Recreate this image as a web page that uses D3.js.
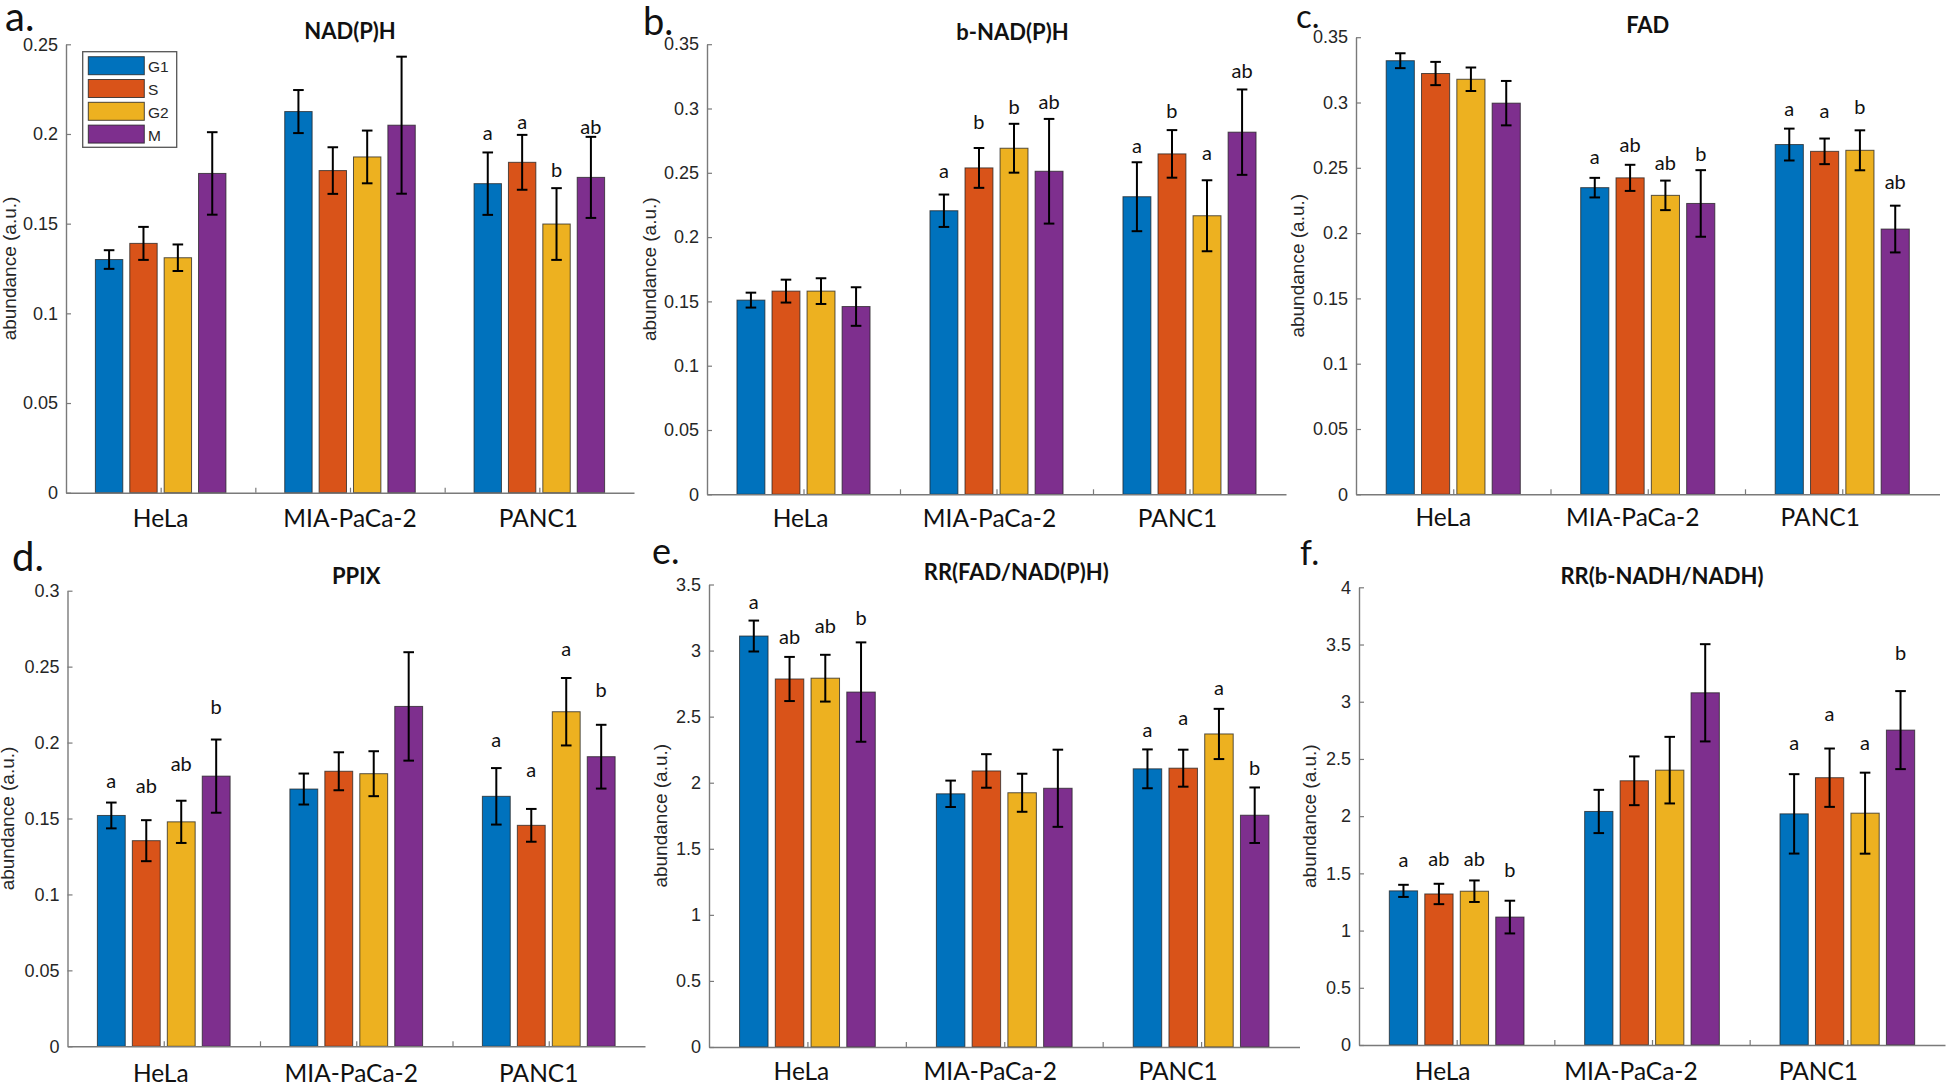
<!DOCTYPE html>
<html><head><meta charset="utf-8">
<script src="https://cdn.jsdelivr.net/npm/d3@7"></script>
<style>body{margin:0;background:#fff}</style>
</head><body>
<svg id="fig" width="1946" height="1086"></svg>
<script>
// ---------------- DATA ----------------
const categories = ["HeLa", "MIA-PaCa-2", "PANC1"];
const phases = ["G1", "S", "G2", "M"];
const xTickValues = [1, 1.5, 2, 2.5, 3];

// a. NAD(P)H
const nadphMean = [[0.130, 0.139, 0.131, 0.178], [0.2125, 0.1796, 0.1872, 0.2049], [0.1723, 0.1842, 0.1498, 0.1758]];
const nadphErr  = [[0.0052, 0.0092, 0.0074, 0.023], [0.012, 0.013, 0.0147, 0.0382], [0.0174, 0.0153, 0.020, 0.0226]];
const nadphLetters = [["", "", "", ""], ["", "", "", ""], ["a", "a", "b", "ab"]];
const nadphLetterY = [[0, 0, 0, 0], [0, 0, 0, 0], [0.1966, 0.2025, 0.176, 0.2002]];
const nadphTicks = [0, 0.05, 0.1, 0.15, 0.2, 0.25];

// b. b-NAD(P)H
const bnadphMean = [[0.151, 0.158, 0.158, 0.146], [0.2205, 0.2538, 0.2691, 0.2512], [0.2314, 0.2647, 0.2166, 0.2816]];
const bnadphErr  = [[0.0058, 0.0089, 0.010, 0.015], [0.0126, 0.0155, 0.019, 0.0407], [0.0268, 0.0185, 0.0276, 0.0332]];
const bnadphLetters = [["", "", "", ""], ["a", "b", "b", "ab"], ["a", "b", "a", "ab"]];
const bnadphLetterY = [[0, 0, 0, 0], [0.2457, 0.2842, 0.2957, 0.2993], [0.2657, 0.2928, 0.2603, 0.3237]];
const bnadphTicks = [0, 0.05, 0.1, 0.15, 0.2, 0.25, 0.3, 0.35];

// c. FAD
const fadMean = [[0.332, 0.3222, 0.3178, 0.2995], [0.2348, 0.2423, 0.2289, 0.2227], [0.2678, 0.2626, 0.2634, 0.2031]];
const fadErr  = [[0.0057, 0.0089, 0.009, 0.017], [0.0075, 0.010, 0.0113, 0.0255], [0.0122, 0.0098, 0.0153, 0.0179]];
const fadLetters = [["", "", "", ""], ["a", "ab", "ab", "b"], ["a", "a", "b", "ab"]];
const fadLetterY = [[0, 0, 0, 0], [0.2526, 0.2621, 0.2485, 0.2552], [0.2899, 0.2884, 0.291, 0.2338]];
const fadTicks = [0, 0.05, 0.1, 0.15, 0.2, 0.25, 0.3, 0.35];

// d. PPIX
const ppixMean = [[0.152, 0.1354, 0.1478, 0.1779], [0.1694, 0.1811, 0.1795, 0.2238], [0.1646, 0.1455, 0.2203, 0.1907]];
const ppixErr  = [[0.0085, 0.0135, 0.0139, 0.0241], [0.0102, 0.0125, 0.0148, 0.0357], [0.0186, 0.0108, 0.0222, 0.021]];
const ppixLetters = [["a", "ab", "ab", "b"], ["", "", "", ""], ["a", "a", "a", "b"]];
const ppixLetterY = [[0.1699, 0.1669, 0.1813, 0.2185], [0, 0, 0, 0], [0.1974, 0.1772, 0.2571, 0.23]];
const ppixTicks = [0, 0.05, 0.1, 0.15, 0.2, 0.25, 0.3];

// e. RR(FAD/NAD(P)H)
const rrFadMean = [[3.11, 2.785, 2.791, 2.686], [1.916, 2.089, 1.924, 1.958], [2.105, 2.11, 2.369, 1.754]];
const rrFadErr  = [[0.117, 0.167, 0.177, 0.376], [0.10, 0.127, 0.144, 0.292], [0.147, 0.14, 0.19, 0.21]];
const rrFadLetters = [["a", "ab", "ab", "b"], ["", "", "", ""], ["a", "a", "a", "b"]];
const rrFadLetterY = [[3.317, 3.05, 3.134, 3.194], [0, 0, 0, 0], [2.343, 2.435, 2.662, 2.06]];
const rrFadTicks = [0, 0.5, 1, 1.5, 2, 2.5, 3, 3.5];

// f. RR(b-NADH/NADH)
const rrNadhMean = [[1.347, 1.32, 1.344, 1.118], [2.041, 2.309, 2.402, 3.078], [2.02, 2.336, 2.026, 2.752]];
const rrNadhErr  = [[0.053, 0.089, 0.094, 0.143], [0.189, 0.213, 0.291, 0.425], [0.347, 0.255, 0.354, 0.341]];
const rrNadhLetters = [["a", "ab", "ab", "b"], ["", "", "", ""], ["a", "a", "a", "b"]];
const rrNadhLetterY = [[1.552, 1.567, 1.567, 1.471], [0, 0, 0, 0], [2.577, 2.833, 2.577, 3.361]];
const rrNadhTicks = [0, 0.5, 1, 1.5, 2, 2.5, 3, 3.5, 4];

// ---------------- STYLE / LAYOUT ----------------
const phaseColors = ["#0072BD", "#D95319", "#EDB120", "#7E2F8E"];
const barStep = 0.1816, barWidth = 0.1447;
const serifless = "'Liberation Sans', Arial, sans-serif";
const humanist = "Lato, 'Open Sans', sans-serif";

const panels = [
  {tag: "a.", tagX: 5, tagY: 31, tagSize: 40, title: "NAD(P)H", titleY: 39, titleShift: 0,
   mean: nadphMean, err: nadphErr, letters: nadphLetters, letterY: nadphLetterY, ticks: nadphTicks,
   x0: 66, x1: 634, y0: 492.7, yTop: 44.3, labY: 527, labShift: [0, 0, -1], ylabX: 15.5, legend: true},
  {tag: "b.", tagX: 643, tagY: 35, tagSize: 38, title: "b-NAD(P)H", titleY: 40, titleShift: 16,
   mean: bnadphMean, err: bnadphErr, letters: bnadphLetters, letterY: bnadphLetterY, ticks: bnadphTicks,
   x0: 707, x1: 1286, y0: 494.3, yTop: 44.2, labY: 527, labShift: [-3, -7, -12], ylabX: 655.5},
  {tag: "c.", tagX: 1296, tagY: 28, tagSize: 33, title: "FAD", titleY: 33, titleShift: 0,
   mean: fadMean, err: fadErr, letters: fadLetters, letterY: fadLetterY, ticks: fadTicks,
   x0: 1356, x1: 1939.5, y0: 494.3, yTop: 37.2, labY: 526, labShift: [-10, -15, -22], ylabX: 1304},
  {tag: "d.", tagX: 12, tagY: 571, tagSize: 40, title: "PPIX", titleY: 584, titleShift: 0,
   mean: ppixMean, err: ppixErr, letters: ppixLetters, letterY: ppixLetterY, ticks: ppixTicks,
   x0: 67.5, x1: 645, y0: 1046.3, yTop: 590.7, labY: 1082, labShift: [-3, -5, -10], ylabX: 13.5},
  {tag: "e.", tagX: 652, tagY: 564, tagSize: 36, title: "RR(FAD/NAD(P)H)", titleY: 580, titleShift: 12,
   mean: rrFadMean, err: rrFadErr, letters: rrFadLetters, letterY: rrFadLetterY, ticks: rrFadTicks,
   x0: 709, x1: 1299.5, y0: 1047, yTop: 584.5, labY: 1080, labShift: [-6, -14, -23], ylabX: 667},
  {tag: "f.", tagX: 1300, tagY: 565, tagSize: 34, title: "RR(b-NADH/NADH)", titleY: 584, titleShift: 10,
   mean: rrNadhMean, err: rrNadhErr, letters: rrNadhLetters, letterY: rrNadhLetterY, ticks: rrNadhTicks,
   x0: 1359, x1: 1945, y0: 1045, yTop: 587.3, labY: 1080, labShift: [-14, -21, -29], ylabX: 1316}
];

const svg = d3.select("#fig");

function drawPanel(p) {
  const g = svg.append("g");
  const x = d3.scaleLinear().domain([0.5, 3.5]).range([p.x0, p.x1]);
  const y = d3.scaleLinear().domain([0, p.ticks[p.ticks.length - 1]]).range([p.y0, p.yTop]);

  // bars
  p.mean.forEach((row, ci) => row.forEach((v, si) => {
    const cx = ci + 1 + (si - 1.5) * barStep;
    g.append("rect")
      .attr("x", x(cx - barWidth / 2))
      .attr("width", x(cx + barWidth / 2) - x(cx - barWidth / 2))
      .attr("y", y(v))
      .attr("height", y(0) - y(v))
      .attr("fill", phaseColors[si])
      .attr("stroke", "#222")
      .attr("stroke-opacity", 0.75)
      .attr("stroke-width", 1);
  }));

  // error bars
  p.mean.forEach((row, ci) => row.forEach((v, si) => {
    const cx = x(ci + 1 + (si - 1.5) * barStep);
    const e = p.err[ci][si];
    const hi = y(v + e), lo = y(v - e);
    const eg = g.append("g").attr("stroke", "#000").attr("stroke-width", 2);
    eg.append("line").attr("x1", cx).attr("x2", cx).attr("y1", hi).attr("y2", lo);
    eg.append("line").attr("x1", cx - 5.3).attr("x2", cx + 5.3).attr("y1", hi).attr("y2", hi);
    eg.append("line").attr("x1", cx - 5.3).attr("x2", cx + 5.3).attr("y1", lo).attr("y2", lo);
  }));

  // significance letters
  p.letters.forEach((row, ci) => row.forEach((t, si) => {
    if (!t) return;
    g.append("text")
      .attr("x", x(ci + 1 + (si - 1.5) * barStep))
      .attr("y", y(p.letterY[ci][si]))
      .attr("text-anchor", "middle")
      .attr("font-family", humanist)
      .attr("font-size", 20)
      .attr("fill", "#111")
      .text(t);
  }));

  // axes
  const xa = g.append("g").attr("transform", `translate(0,${p.y0})`)
    .call(d3.axisBottom(x).tickValues(xTickValues).tickSizeInner(-5).tickSizeOuter(0).tickFormat(() => ""));
  const ya = g.append("g").attr("transform", `translate(${p.x0},0)`)
    .call(d3.axisLeft(y).tickValues(p.ticks).tickSizeInner(-5).tickSizeOuter(0).tickPadding(8).tickFormat(d => String(d)));
  [xa, ya].forEach(a => {
    a.select(".domain").attr("stroke", "#7a7a7a").attr("stroke-width", 1.4);
    a.selectAll(".tick line").attr("stroke", "#7a7a7a").attr("stroke-width", 1.2);
  });
  ya.selectAll(".tick text").attr("font-family", serifless).attr("font-size", 18).attr("fill", "#262626");

  // category labels
  categories.forEach((c, ci) => {
    g.append("text")
      .attr("x", x(ci + 1) + p.labShift[ci])
      .attr("y", p.labY)
      .attr("text-anchor", "middle")
      .attr("font-family", humanist)
      .attr("font-size", 24.5)
      .attr("fill", "#111")
      .text(c);
  });

  // y label
  g.append("text")
    .attr("transform", `translate(${p.ylabX},${(p.y0 + p.yTop) / 2}) rotate(-90)`)
    .attr("text-anchor", "middle")
    .attr("font-family", serifless)
    .attr("font-size", 19)
    .attr("fill", "#262626")
    .text("abundance (a.u.)");

  // title
  g.append("text")
    .attr("x", (p.x0 + p.x1) / 2 + p.titleShift)
    .attr("y", p.titleY)
    .attr("text-anchor", "middle")
    .attr("font-family", humanist)
    .attr("font-weight", "bold")
    .attr("font-size", 22)
    .attr("fill", "#111")
    .text(p.title);

  // panel tag
  g.append("text")
    .attr("x", p.tagX)
    .attr("y", p.tagY)
    .attr("font-family", humanist)
    .attr("font-size", p.tagSize)
    .attr("fill", "#111")
    .text(p.tag);

  // legend
  if (p.legend) {
    const lg = g.append("g");
    lg.append("rect").attr("x", 82.7).attr("y", 51.7).attr("width", 94).attr("height", 95.6)
      .attr("fill", "#fff").attr("stroke", "#555").attr("stroke-width", 1.3);
    phases.forEach((ph, i) => {
      const top = 56.7 + i * 22.8;
      lg.append("rect").attr("x", 88.3).attr("y", top).attr("width", 56).attr("height", 18)
        .attr("fill", phaseColors[i]).attr("stroke", "#222").attr("stroke-opacity", 0.8).attr("stroke-width", 1);
      lg.append("text").attr("x", 148).attr("y", top + 15.5)
        .attr("font-family", serifless).attr("font-size", 15.5).attr("fill", "#262626").text(ph);
    });
  }
}

panels.forEach(drawPanel);
</script>
</body></html>
